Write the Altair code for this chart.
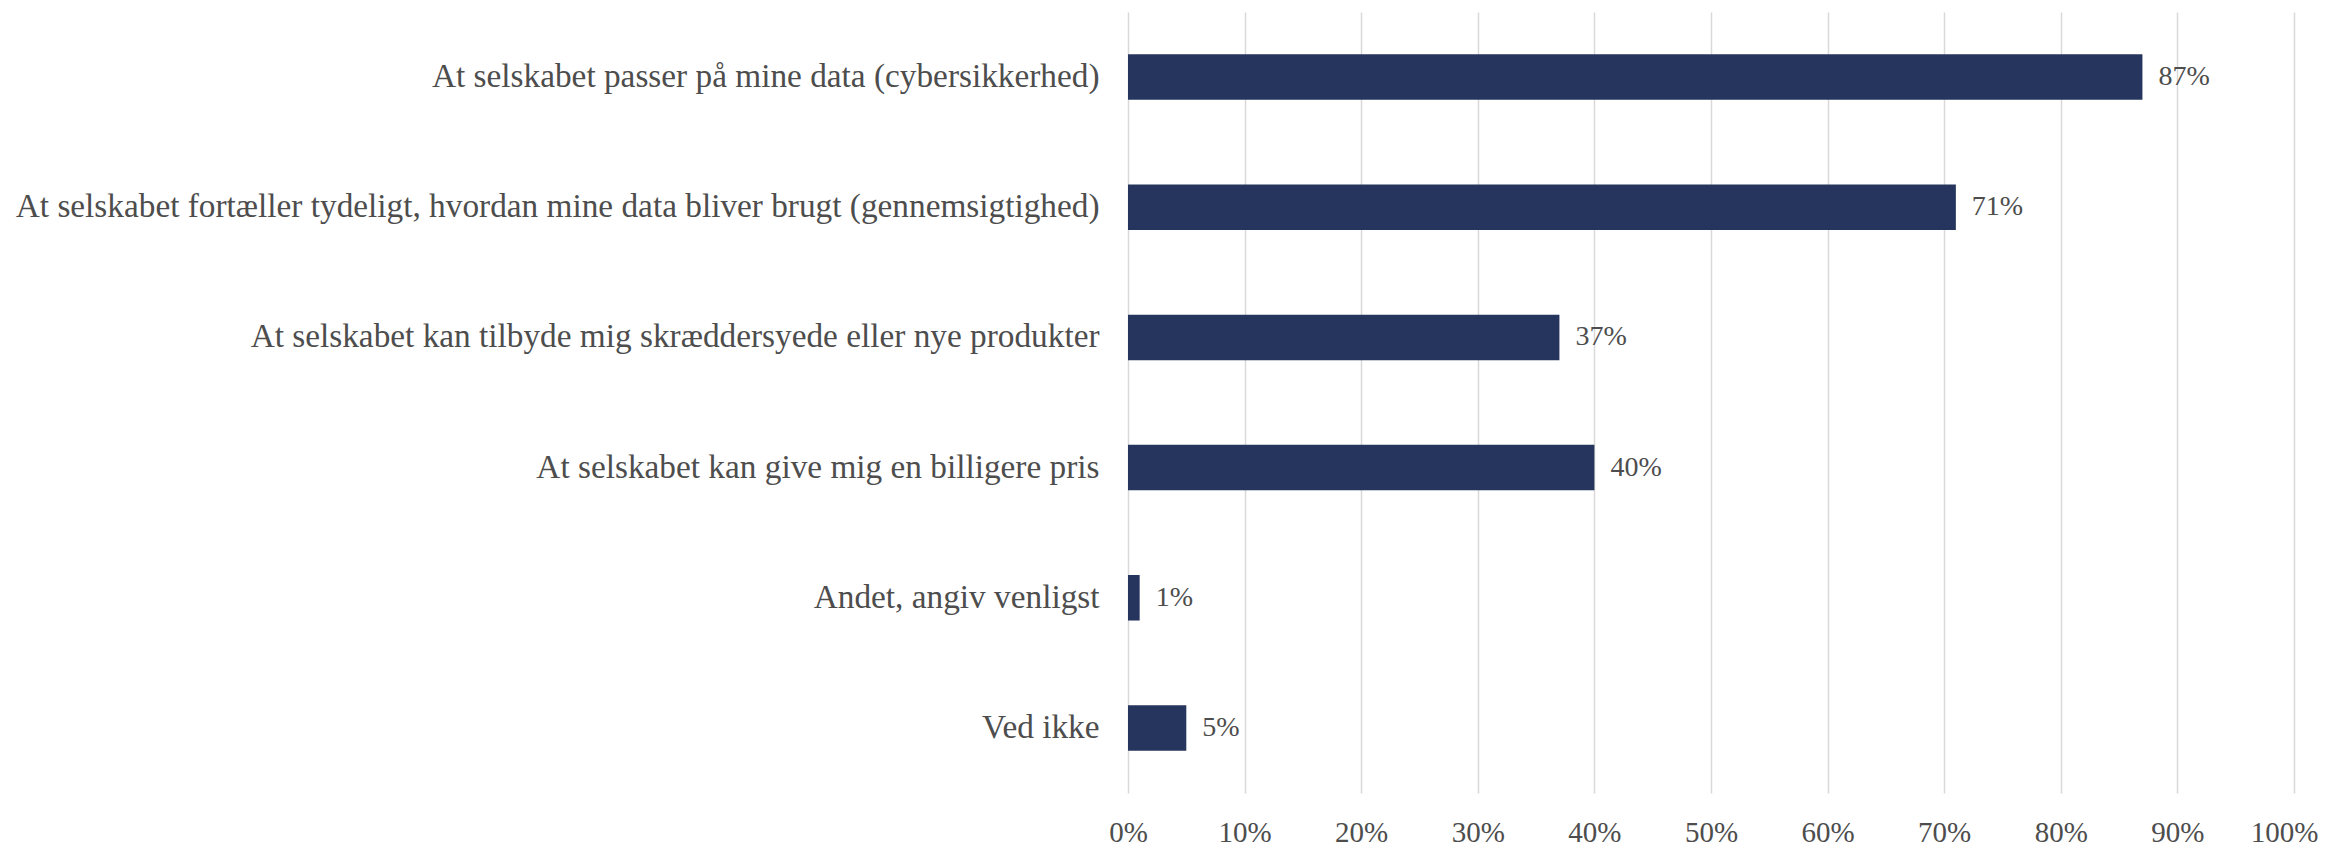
import altair as alt
import pandas as pd

categories = [
    "At selskabet passer på mine data (cybersikkerhed)",
    "At selskabet fortæller tydeligt, hvordan mine data bliver brugt (gennemsigtighed)",
    "At selskabet kan tilbyde mig skræddersyede eller nye produkter",
    "At selskabet kan give mig en billigere pris",
    "Andet, angiv venligst",
    "Ved ikke",
]
values = [87, 71, 37, 40, 1, 5]
x_ticks = [0, 10, 20, 30, 40, 50, 60, 70, 80, 90, 100]

df = pd.DataFrame({"cat": categories, "val": values})
df["label"] = df["val"].astype(str) + "%"

FONT = "Liberation Serif"
TEXT_COLOR = "#4d4d4d"
BAR_COLOR = "#26355d"

y_enc = alt.Y(
    "cat:N",
    sort=categories,
    scale=alt.Scale(paddingInner=0.65, paddingOuter=0.325),
    axis=alt.Axis(
        title=None,
        domain=False,
        ticks=False,
        grid=False,
        labelPadding=29,
        labelFont=FONT,
        labelFontSize=33.3,
        labelColor=TEXT_COLOR,
        labelLimit=1200,
    ),
)

x_enc = alt.X(
    "val:Q",
    scale=alt.Scale(domain=[0, 100], nice=False),
    axis=alt.Axis(
        title=None,
        values=x_ticks,
        labelExpr="datum.value + '%'",
        domain=False,
        ticks=False,
        grid=True,
        gridColor="#d9d9d9",
        gridWidth=1.5,
        labelPadding=25,
        labelFlush=False,
        labelOverlap=False,
        labelOffset={"condition": {"test": "datum.value == 100", "value": -10}, "value": 0},
        labelFont=FONT,
        labelFontSize=29,
        labelColor=TEXT_COLOR,
    ),
)

bars = alt.Chart(df).mark_bar(color=BAR_COLOR).encode(x=x_enc, y=y_enc)

text = alt.Chart(df).mark_text(
    align="left", baseline="middle", dx=16, font=FONT, fontSize=28, color=TEXT_COLOR
).encode(
    x=alt.X("val:Q"),
    y=alt.Y("cat:N", sort=categories),
    text="label:N",
)

chart = (
    alt.layer(bars, text)
    .properties(
        width=1166,
        height=781,
        autosize=alt.AutoSizeParams(type="none"),
        padding={"left": 1120, "top": 4, "right": 26, "bottom": 56},
    )
    .configure_view(stroke=None)
)

chart.save("out.html", embed_options={"renderer": "svg", "actions": False})
